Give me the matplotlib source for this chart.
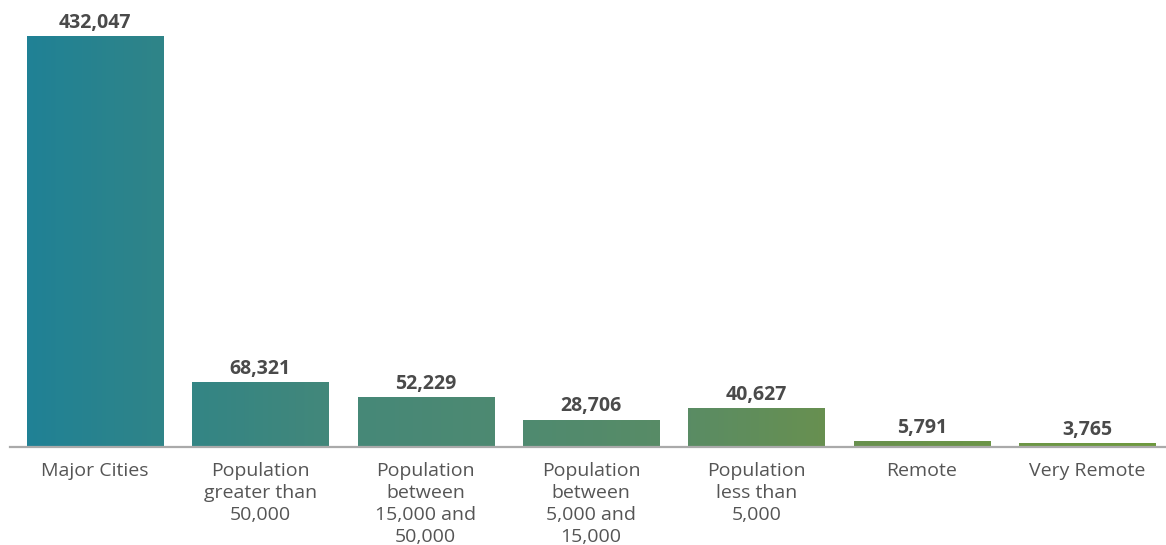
import matplotlib
matplotlib.use("Agg")
import matplotlib.pyplot as plt
import numpy as np
from matplotlib.colors import LinearSegmentedColormap

categories = ["Major Cities", "Population\ngreater than\n50,000", "Population\nbetween\n15,000 and\n50,000",
              "Population\nbetween\n5,000 and\n15,000", "Population\nless than\n5,000", "Remote", "Very Remote"]
values = [432047, 68321, 52229, 28706, 40627, 5791, 3765]

plt.rcParams['font.family'] = ['Open Sans', 'DejaVu Sans']

W, H = 1166, 545
fig = plt.figure(figsize=(W/100, H/100), dpi=100)
ax = fig.add_axes([10/W, 98/H, 1156/W, 447/H])

x = np.arange(len(values))
bars = ax.bar(x, values, width=0.823, color="none", edgecolor="none")
xmin, xmax = -0.514, 6.478
ax.set_xlim(xmin, xmax)
ymax = 432047 * 447 / 411
ax.set_ylim(0, ymax)

grad_stops = [(0.0, "#1e8197"), (0.156, "#338585"), (0.300, "#468878"), (0.445, "#4f8a70"),
              (0.589, "#5a8c64"), (0.707, "#689050"), (1.0, "#6f9a3e")]
cmap = LinearSegmentedColormap.from_list("g", grad_stops)
grad = np.linspace(0, 1, 512).reshape(1, -1)
for b in bars:
    im = ax.imshow(grad, extent=[xmin, xmax, 0, ymax], aspect="auto", cmap=cmap, zorder=2)
    im.set_clip_path(b)

for xi, v in zip(x, values):
    ax.annotate(f"{v:,}", (xi, v), xytext=(0, 2.5), textcoords="offset points",
                ha="center", va="bottom", fontsize=14, fontweight="bold", color="#4a4a4a")

ax.set_xticks(x)
ax.set_xticklabels(categories, fontsize=14, color="#555555", linespacing=1.28)
ax.tick_params(axis="x", length=0, pad=11)
ax.set_yticks([])
for s in ["top", "right", "left"]:
    ax.spines[s].set_visible(False)
ax.spines["bottom"].set_color("#aaaaaa")
ax.spines["bottom"].set_linewidth(1.6)
ax.spines["bottom"].set_zorder(5)

fig.savefig("out.png", dpi=100, facecolor="white")
